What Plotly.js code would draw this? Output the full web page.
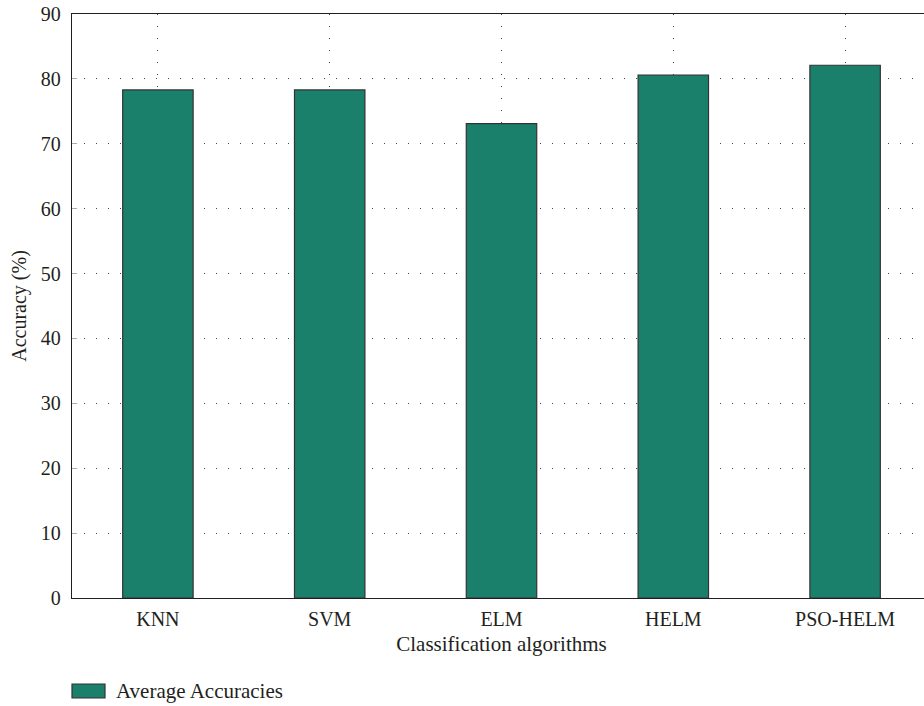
<!DOCTYPE html>
<html>
<head>
<meta charset="utf-8">
<script src="https://cdn.plot.ly/plotly-3.0.1.min.js"></script>
<style>
html,body{margin:0;padding:0;overflow:hidden;background:#fff;}
#chart{width:940px;height:706px;}
</style>
</head>
<body>
<div id="chart"></div>
<script>
const categories = ["KNN", "SVM", "ELM", "HELM", "PSO-HELM"];
const averageAccuracies = [78.3, 78.3, 73.1, 80.6, 82.1];
const seriesName = "Average Accuracies";
const yTicks = [0, 10, 20, 30, 40, 50, 60, 70, 80, 90];

const fontFam = "Liberation Serif, Times New Roman, serif";
const txtColor = "#231f20";
const barColor = "#1a806b";
const barLine = "#333333";

const trace = {
  type: "bar",
  x: categories,
  y: averageAccuracies,
  name: seriesName,
  width: 0.41,
  marker: {color: barColor, line: {color: barLine, width: 1.2}},
  showlegend: false,
  hoverinfo: "x+y"
};

const layout = {
  width: 940,
  height: 706,
  margin: {l: 72, r: 9, t: 14, b: 108},
  paper_bgcolor: "#ffffff",
  plot_bgcolor: "#ffffff",
  font: {family: fontFam, size: 20, color: txtColor},
  showlegend: false,
  xaxis: {
    type: "category",
    range: [-0.5, 4.5],
    showline: true, mirror: true, linecolor: txtColor, linewidth: 1.2,
    showgrid: true, gridcolor: "#444444", gridwidth: 1, griddash: "1px,11px",
    ticks: "", ticklabelstandoff: 3,
    tickfont: {family: fontFam, size: 20, color: txtColor},
    title: {text: "Classification algorithms", font: {family: fontFam, size: 21, color: txtColor}, standoff: 7},
    zeroline: false, automargin: false
  },
  yaxis: {
    range: [0, 90],
    tickvals: yTicks,
    showline: true, mirror: true, linecolor: txtColor, linewidth: 1.2,
    showgrid: true, gridcolor: "#444444", gridwidth: 1, griddash: "1px,11px",
    ticks: "inside", ticklen: 5, tickcolor: "#aaaaaa",
    ticklabelstandoff: 6,
    tickfont: {family: fontFam, size: 20, color: txtColor},
    title: {text: "Accuracy (%)", font: {family: fontFam, size: 20, color: txtColor}, standoff: 8},
    zeroline: false, automargin: false
  },
  shapes: [{
    type: "rect", xref: "paper", yref: "paper",
    x0: 0, x1: 33 / 859, y0: -86 / 584, y1: -100 / 584,
    fillcolor: barColor, line: {color: barLine, width: 1.2}
  }],
  annotations: [{
    xref: "paper", yref: "paper",
    x: 42 / 859, y: -93 / 584, xanchor: "left", yanchor: "middle",
    text: seriesName, showarrow: false,
    font: {family: fontFam, size: 21, color: txtColor}
  }],
  bargap: 0.59
};

Plotly.newPlot("chart", [trace], layout, {displayModeBar: false, staticPlot: true});
</script>
</body>
</html>
